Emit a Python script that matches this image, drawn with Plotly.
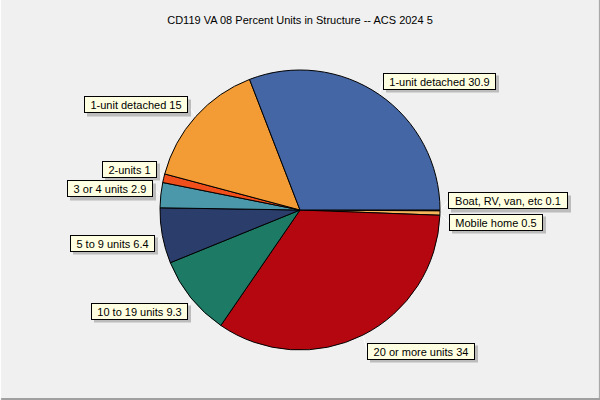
import math
import plotly.graph_objects as go

title = "CD119 VA 08 Percent Units in Structure -- ACS 2024 5"
labels = ["1-unit detached", "1-unit detached", "2-units", "3 or 4 units", "5 to 9 units",
          "10 to 19 units", "20 or more units", "Mobile home", "Boat, RV, van, etc"]
values = [30.9, 15, 1, 2.9, 6.4, 9.3, 34, 0.5, 0.1]
colors = ["#4466A4", "#F39C35", "#F04E1A", "#4A98AA", "#2B3E6B",
          "#1D7A64", "#B5070F", "#F5B55A", "#2A2F55"]

# label box placement (pixels): (x edge, y center, anchor)
label_pos = [(383, 81, "left"), (188, 105, "right"), (157, 169, "right"), (153, 189, "right"),
             (155, 243, "right"), (188, 311, "right"), (367, 351, "left"),
             (449, 222, "left"), (448, 201, "left")]

W, H = 600, 400
cx, cy, r = 300, 210, 140
FS = 11

# approximate Arial advance widths (per 1000 em) for box sizing
CW = {' ': 278, '.': 278, ',': 278, '-': 333, 'c': 500, 's': 500, 'v': 500, 'f': 278,
      't': 278, 'i': 222, 'l': 222, 'j': 222, 'r': 333, 'm': 833, 'w': 722,
      'B': 667, 'R': 722, 'V': 667, 'M': 833}

def text_w(s):
    return sum(CW.get(ch, 556) for ch in s) * FS / 1000

# reverse order with clockwise direction == counterclockwise from 3 o'clock
fig = go.Figure(go.Pie(
    labels=[f"{l} {v}" for l, v in zip(labels, values)][::-1],
    values=values[::-1], sort=False, direction="clockwise", rotation=90,
    marker=dict(colors=colors[::-1], line=dict(color="black", width=1)),
    textinfo="none", hoverinfo="label", showlegend=False,
    domain=dict(x=[(cx - r) / W, (cx + r) / W], y=[(H - cy - r) / H, (H - cy + r) / H]),
))

shapes = []
annotations = []
total = sum(values)
cum = 0
for (lab, v, (lx, ly, anc)) in zip(labels, values, label_pos):
    mid = (cum + v / 2) / total * 2 * math.pi
    cum += v
    ex, ey = cx + r * math.cos(mid), cy - r * math.sin(mid)
    shapes.append(dict(type="line", xref="paper", yref="paper",
                       x0=ex / W, y0=1 - ey / H, x1=lx / W, y1=1 - ly / H,
                       line=dict(color="white", width=1), layer="below"))
    txt = f"{lab} {v}"
    iw = round(text_w(txt) + 11)
    ih = 15
    bw, bh = iw + 2, ih + 2
    if anc == "left":
        bx0, bx1 = lx, lx + bw
    else:
        bx0, bx1 = lx - bw, lx
    shapes.append(dict(type="rect", xref="paper", yref="paper",
                       x0=(bx0 + 3) / W, x1=(bx1 + 3) / W,
                       y0=1 - (ly - bh / 2 + 3) / H, y1=1 - (ly + bh / 2 + 3) / H,
                       fillcolor="#9A9A9A", line=dict(width=0), opacity=0.6, layer="above"))
    annotations.append(dict(text=txt, xref="paper", yref="paper", x=lx / W, y=1 - ly / H,
                            xanchor=anc, yanchor="middle", showarrow=False,
                            width=iw, height=ih, align="center", valign="middle",
                            borderpad=0, borderwidth=1,
                            font=dict(family="Liberation Sans", size=FS, color="black"),
                            bgcolor="#FFFFE1", bordercolor="black"))

# window frame
shapes += [
    dict(type="line", xref="paper", yref="paper", x0=0, y0=0.0025, x1=1, y1=0.0025,
         line=dict(color="#A0A0A0", width=2)),
    dict(type="line", xref="paper", yref="paper", x0=0.999, y0=0, x1=0.999, y1=1,
         line=dict(color="#A0A0A0", width=1)),
    dict(type="line", xref="paper", yref="paper", x0=0.001, y0=0, x1=0.001, y1=1,
         line=dict(color="#FFFFFF", width=1)),
]

fig.update_layout(
    width=W, height=H, margin=dict(l=0, r=0, t=0, b=0),
    paper_bgcolor="#F0F0F0", plot_bgcolor="#F0F0F0",
    title=dict(text=title, x=0.5, xanchor="center", y=1 - 20 / H, yanchor="middle",
               font=dict(family="Liberation Sans", size=11, color="black")),
    shapes=shapes, annotations=annotations,
)
fig.write_html("out.html")
